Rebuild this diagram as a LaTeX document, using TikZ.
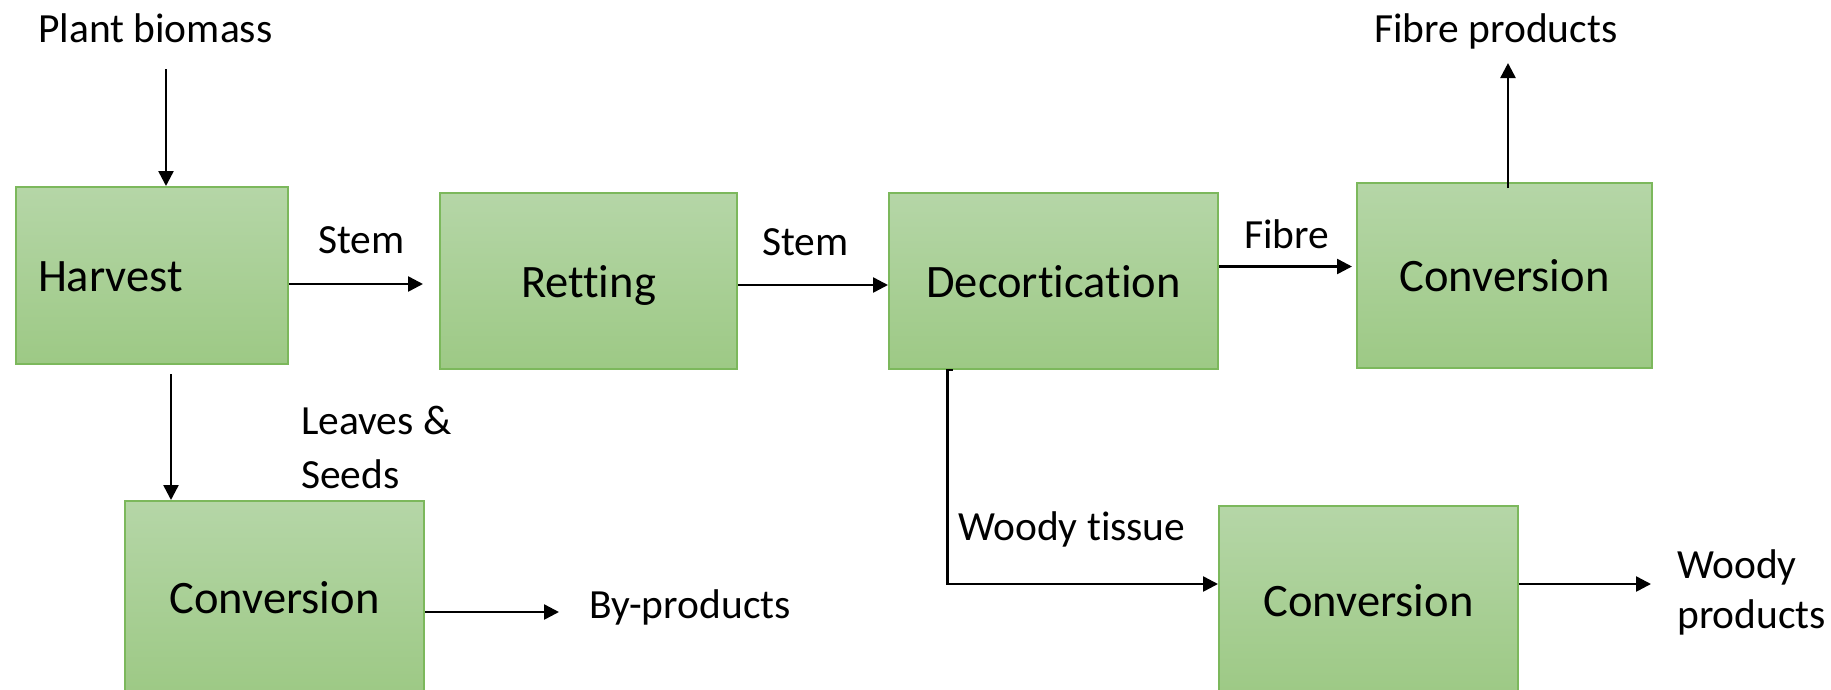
\documentclass[tikz,border=0pt]{standalone}
\usepackage{fontspec}
\setmainfont{Carlito}[Ligatures=CommonOff]
\usetikzlibrary{arrows.meta,calc}
\definecolor{gtop}{HTML}{B5D6A7}
\definecolor{gbot}{HTML}{9DC985}
\definecolor{gline}{HTML}{7CB85C}
\begin{document}
\begin{tikzpicture}[x=1pt,y=-1pt,
  box/.style={draw=gline, line width=2pt, top color=gtop, bottom color=gbot, inner sep=0pt,
    text height=32pt, text depth=0pt, font=\fontsize{46.5}{56}\selectfont},
  lbl/.style={inner sep=0pt, anchor=base west, font=\fontsize{41.5}{50}\selectfont},
  arr/.style={line width=2.5pt, -{Triangle[length=15pt,width=15pt]}}]
\useasboundingbox (0,0) rectangle (1831,689);
\clip (0,0) rectangle (1831,689);

% process boxes
\node[box, text width=228pt, align=left, inner xsep=22pt, minimum height=177pt] (harvest) at (152,275.5) {Harvest};
\node[box, minimum width=297pt, minimum height=176pt] (retting) at (588.5,281) {Retting};
\node[box, minimum width=329pt, minimum height=176pt] (decort) at (1053.5,281) {Decortication};
\node[box, minimum width=295pt, minimum height=185pt] (conv1) at (1504.5,275.5) {Conversion};
\node[box, minimum width=299pt, minimum height=192pt] (conv2) at (274.5,597) {Conversion};
\node[box, minimum width=299pt, minimum height=188pt] (conv3) at (1368.5,600) {Conversion};

% labels
\node[lbl] (pb) at (38,42) {Plant biomass};
\node[lbl] (stem1) at (318,253) {Stem};
\node[lbl] (stem2) at (762,255) {Stem};
\node[lbl] (fibre) at (1244,248) {Fibre};
\node[lbl] (fprod) at (1374,42) {Fibre products};
\node[lbl, font=\fontsize{41.5}{54}\selectfont] (leaves) at (301,434) {\begin{tabular}[t]{@{}l@{}}Leaves \&\\Seeds\end{tabular}};
\node[lbl] (byp) at (589,618) {By-products};
\node[lbl] (wt) at (958,540) {Woody tissue};
\node[lbl, font=\fontsize{41.5}{50}\selectfont] (wprod) at (1677,578) {\begin{tabular}[t]{@{}l@{}}Woody\\products\end{tabular}};

% connectors
\coordinate (a1) at (166,69);
\draw[arr] (a1) -- (a1 |- harvest.north);
\coordinate (s1) at (423,284);
\draw[arr] (harvest.east |- s1) -- (s1);
\draw[arr] ([yshift=-4pt]retting.east) -- ([yshift=-4pt]decort.west);
\coordinate (f1) at (1352,266.5);
\draw[arr] (decort.east |- f1) -- (f1);
\coordinate (fp) at (1508,63);
\draw[arr] ($(conv1.north -| fp)+(0,6)$) -- (fp);
\coordinate (lv) at (171,374);
\draw[arr] (lv) -- (lv |- conv2.north);
\coordinate (bp) at (559,612);
\draw[arr] (conv2.east |- bp) -- (bp);
\coordinate (wt1) at (947.5,584);
\draw[arr] ($(decort.south -| wt1)+(5,0)$) -- (decort.south -| wt1) -- (wt1) -- (conv3.west |- wt1);
\coordinate (wp) at (1651,584);
\draw[arr] (conv3.east |- wp) -- (wp);
\end{tikzpicture}
\end{document}
